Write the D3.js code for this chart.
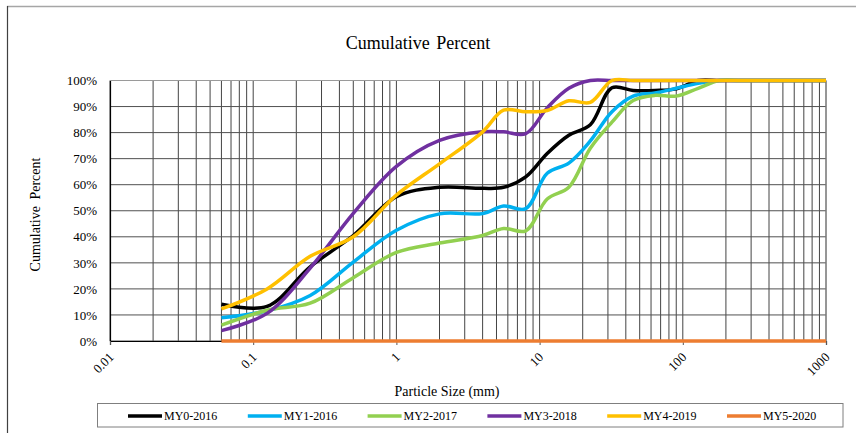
<!DOCTYPE html>
<html>
<head>
<meta charset="utf-8">
<script src="https://cdn.jsdelivr.net/npm/d3@7/dist/d3.min.js"></script>
<style>
  html, body { margin: 0; padding: 0; background: #fff; }
  svg { display: block; }
  text { font-family: "Liberation Serif", "Times New Roman", serif; fill: #000; }
</style>
</head>
<body>
<svg id="chart" width="856" height="433"></svg>
<script>
// Sieve sizes (mm) and cumulative percent passing for each monitoring year
const sizes = [0.06, 0.125, 0.25, 0.5, 1, 2, 4, 5.6, 8, 11.3, 16, 22.6, 32, 45, 64, 90, 128, 180, 256, 362, 512, 1024];

const my0_2016 = [14.1, 13.3, 28.5, 40.5, 55.4, 59, 58.6, 59, 63, 72, 79, 83, 97.2, 96.2, 96.2, 96.8, 100, 100, 100, 100, 100, 100];
const my1_2016 = [8.9, 11.6, 17.5, 30.3, 42.5, 48.8, 48.9, 51.8, 50.8, 64.4, 68.3, 76.8, 88, 94, 95.2, 97, 98.9, 100, 100, 100, 100, 100];
const my2_2017 = [6.1, 11.8, 14.5, 24.3, 34, 37.6, 40.5, 43.2, 42.3, 54.5, 59, 74, 84, 92.3, 94.3, 94, 97, 100, 100, 100, 100, 100];
const my3_2018 = [4, 10.6, 28, 49, 67, 77, 80.3, 80.3, 79.6, 89.5, 97, 100, 100, 100, 100, 100, 100, 100, 100, 100, 100, 100];
const my4_2019 = [12.3, 20, 32.5, 40, 56, 68, 80.3, 88.6, 88, 88.5, 92.2, 91.6, 100, 100, 100, 100, 100, 100, 100, 100, 100, 100];
const my5_2020 = [0, 0, 0, 0, 0, 0, 0, 0, 0, 0, 0, 0, 0, 0, 0, 0, 0, 0, 0, 0, 0, 0];

const seriesNames = ["MY0-2016", "MY1-2016", "MY2-2017", "MY3-2018", "MY4-2019", "MY5-2020"];
const seriesValues = [my0_2016, my1_2016, my2_2017, my3_2018, my4_2019, my5_2020];
const seriesColors = ["#000000", "#00B0F0", "#92D050", "#7030A0", "#FFC000", "#ED7D31"];

const yTickValues = [0, 10, 20, 30, 40, 50, 60, 70, 80, 90, 100];
const xTickValues = [0.01, 0.1, 1, 10, 100, 1000];
const xTickLabels = ["0.01", "0.1", "1", "10", "100", "1000"];

const serif = '"Liberation Serif", "Times New Roman", serif';
const svg = d3.select("#chart");
const plot = { left: 110, right: 826, top: 80.5, bottom: 341 };

const x = d3.scaleLog().domain([0.01, 1000]).range([plot.left, plot.right]);
const y = d3.scaleLinear().domain([0, 100]).range([plot.bottom, plot.top]);

// outer chart frame (top and left edges)
svg.append("line").attr("x1", 7).attr("x2", 856).attr("y1", 6.5).attr("y2", 6.5)
  .attr("stroke", "#a6a6a6").attr("stroke-width", 1.5);
svg.append("line").attr("x1", 7.5).attr("x2", 7.5).attr("y1", 6).attr("y2", 433)
  .attr("stroke", "#404040").attr("stroke-width", 1.2);

// title
svg.append("text").attr("x", 418).attr("y", 49).attr("text-anchor", "middle")
  .attr("font-size", 18).attr("word-spacing", 2).text("Cumulative Percent");

// gridlines: every 1..9 step of each decade, plus each 10%
const grid = svg.append("g");
grid.selectAll("line.v").data(x.ticks()).join("line")
  .attr("class", "v")
  .attr("x1", d => x(d)).attr("x2", d => x(d))
  .attr("y1", plot.top).attr("y2", plot.bottom)
  .attr("stroke", "#444").attr("stroke-width", 1);
grid.selectAll("line.h").data(yTickValues).join("line")
  .attr("class", "h")
  .attr("x1", plot.left).attr("x2", plot.right)
  .attr("y1", d => y(d)).attr("y2", d => y(d))
  .attr("stroke", d => d === 100 ? "#9a9a9a" : "#505050").attr("stroke-width", 1);

// axes
const yAxis = svg.append("g").attr("transform", `translate(${plot.left},0)`)
  .call(d3.axisLeft(y).tickValues(yTickValues).tickSize(0).tickPadding(13).tickFormat(d => d + "%"));
yAxis.attr("font-family", serif);
yAxis.select(".domain").attr("stroke", "#000").attr("stroke-width", 1.2);
yAxis.selectAll("text").attr("font-size", 13);

const xAxis = svg.append("g").attr("transform", `translate(0,${plot.bottom})`)
  .call(d3.axisBottom(x).tickValues(xTickValues).tickSize(4).tickFormat((d, i) => xTickLabels[i]));
xAxis.attr("font-family", serif);
xAxis.select(".domain").attr("stroke", "#000").attr("stroke-width", 1.2);
xAxis.selectAll(".tick line").attr("stroke", "#555");
xAxis.selectAll("text")
  .attr("font-size", 13)
  .attr("text-anchor", "end").attr("dy", null).attr("y", 0)
  .attr("transform", "translate(4,17) rotate(-45)");

// right edge of plot area
svg.append("line").attr("x1", plot.right).attr("x2", plot.right)
  .attr("y1", plot.top).attr("y2", plot.bottom).attr("stroke", "#8c8c8c").attr("stroke-width", 1);

// axis titles
svg.append("text").attr("transform", "translate(40,214.5) rotate(-90)")
  .attr("text-anchor", "middle").attr("font-size", 14).attr("word-spacing", 3)
  .text("Cumulative Percent");
svg.append("text").attr("x", 447).attr("y", 396).attr("text-anchor", "middle")
  .attr("font-size", 14).text("Particle Size (mm)");

// series lines
svg.append("clipPath").attr("id", "plotClip").append("rect")
  .attr("x", plot.left).attr("y", plot.top - 10)
  .attr("width", plot.right - plot.left).attr("height", plot.bottom - plot.top + 20);

const line = d3.line()
  .x(d => x(d[0])).y(d => y(d[1]))
  .curve(d3.curveCatmullRom.alpha(0.5));

const lines = svg.append("g").attr("clip-path", "url(#plotClip)");
seriesValues.forEach((vals, i) => {
  lines.append("path")
    .datum(sizes.map((s, j) => [s, vals[j]]))
    .attr("fill", "none")
    .attr("stroke", seriesColors[i])
    .attr("stroke-width", 3.5)
    .attr("stroke-linejoin", "round")
    .attr("d", line);
});

// legend
const legend = svg.append("g");
legend.append("rect").attr("x", 97.5).attr("y", 403.5).attr("width", 745.5).attr("height", 23.5)
  .attr("fill", "#fff").attr("stroke", "#7f7f7f").attr("stroke-width", 1);
seriesNames.forEach((name, i) => {
  const x0 = 128 + i * 119.8;
  legend.append("line").attr("x1", x0).attr("x2", x0 + 34).attr("y1", 416).attr("y2", 416)
    .attr("stroke", seriesColors[i]).attr("stroke-width", 3.5);
  legend.append("text").attr("x", x0 + 36).attr("y", 420).attr("font-size", 12).text(name);
});
</script>
</body>
</html>
